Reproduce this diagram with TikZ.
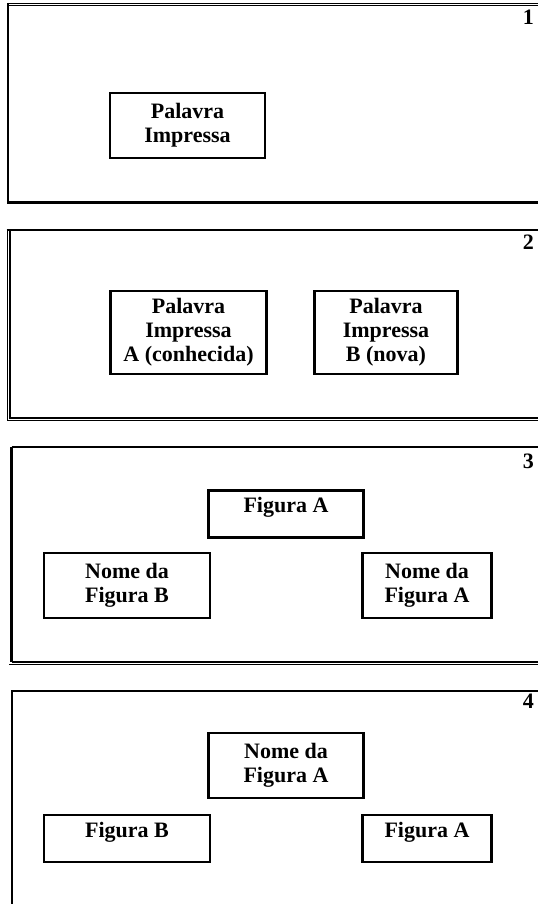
\documentclass[tikz,border=0pt]{standalone}
\usepackage{fontspec}
\setmainfont{Liberation Serif}

\begin{document}
\begin{tikzpicture}
        [x=1pt,y=-1pt,every node/.style={font=\fontsize{22}{24}\selectfont\bfseries,align=center,inner sep=0pt},
         quadro/.style={draw,line width=2.3pt,minimum width=#1},
         umalinha/.style={text height=16pt,text depth=19pt,inner ysep=6pt},
         numero/.style={anchor=base east},
         borda/.style={line width=2.3pt},
         fina/.style={line width=1.1pt}]

        \useasboundingbox (0,0) rectangle (538,904);

        % quadro 1
        \draw[fina] (7,3.3) -- (538,3.3);
        \draw[fina] (7,5.8) -- (538,5.8);
        \draw[borda] (7.8,3) -- (7.8,202.5) -- (538,202.5);
        \node[numero] (n1) at (534,25) {1};
        \node[quadro=155,minimum height=65] (pal) at (187.5,125.5) {Palavra\\Impressa};

        % quadro 2
        \draw[borda] (6.5,230) -- (538,230);
        \draw[fina] (7.3,230) -- (7.3,420.7) -- (538,420.7);
        \draw[fina] (10,230) -- (10,418) -- (538,418);
        \node[numero] (n2) at (534,249) {2};
        \node[quadro=156,minimum height=83] (palA) at (188.5,332.5) {Palavra\\Impressa\\A (conhecida)};
        \node[quadro=143,minimum height=83] (palB) at (386,332.5) {Palavra\\Impressa\\B (nova)};

        % quadro 3
        \draw[borda] (11.5,446.7) -- (538,446.7);
        \draw[borda] (11.5,446.7) -- (11.5,662);
        \draw[fina] (11.5,662) -- (538,662);
        \draw[fina] (9,664.5) -- (538,664.5);
        \node[numero] (n3) at (534,468) {3};
        \node[quadro=155,umalinha] (figA) at (286,514) {Figura A};
        \node[quadro=166,minimum height=65] (nomeB) at (127,585.5) {Nome da\\Figura B};
        \node[quadro=129,minimum height=65] (nomeA) at (427,585.5) {Nome da\\Figura A};

        % quadro 4
        \draw[borda] (12,904) -- (12,690.7) -- (538,690.7);
        \node[numero] (n4) at (534,708) {4};
        \node[quadro=155,minimum height=65] (nomeA2) at (286,765.5) {Nome da\\Figura A};
        \node[quadro=166,umalinha] (figB2) at (127,838.5) {Figura B};
        \node[quadro=129,umalinha] (figA2) at (427,838.5) {Figura A};

      \end{tikzpicture}
\end{document}
